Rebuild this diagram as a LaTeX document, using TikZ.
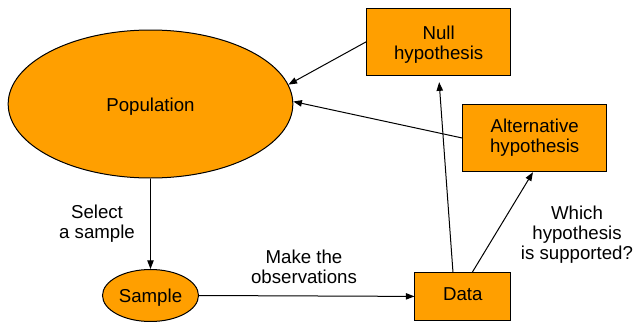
\documentclass[tikz,border=0pt]{standalone}
\usepackage{fontspec}
\setmainfont{Liberation Sans}
\usetikzlibrary{shapes.geometric,arrows.meta}
\definecolor{boxorange}{RGB}{255,159,0}
\newcommand{\movedtext}[2]{\raisebox{-#1}[\height][\depth]{\begin{tabular}{@{}c@{}}#2\end{tabular}}}
\begin{document}
\begin{tikzpicture}[x=0.75pt,y=-0.75pt,
  font=\fontsize{14pt}{15pt}\selectfont,
  shapebox/.style={draw=black,fill=boxorange,line width=0.75pt,inner sep=0pt,align=center},
  ell/.style={shapebox,ellipse},
  rect/.style={shapebox,rectangle},
  conn/.style={line width=0.75pt,-{Triangle[length=6.5pt,width=4.8pt]}},
  lbl/.style={align=center,inner sep=0pt}]
\useasboundingbox (0,0) rectangle (637,322);
\node[ell,minimum width=213.5pt,minimum height=111pt] (pop) at (150.5,104) {\movedtext{2.25pt}{Population}};
\node[ell,minimum width=72pt,minimum height=39pt] (samp) at (150.5,295.5) {\movedtext{2.25pt}{Sample}};
\node[rect,minimum width=108pt,minimum height=50.25pt] (null) at (438.7,41.8) {\movedtext{2.6pt}{Null\\hypothesis}};
\node[rect,minimum width=108pt,minimum height=50.5pt] (alt) at (534.7,138) {\movedtext{0.4pt}{Alternative\\hypothesis}};
\node[rect,minimum width=71.8pt,minimum height=35.5pt] (data) at (462.85,296.4) {\movedtext{0pt}{Data}};
\draw[conn] (pop.south) -- (samp.north);
\draw[conn] (samp.east) -- (data.west);
\draw[conn,shorten >=4.8pt] ([xshift=-7.4pt]data.north) -- (null.south);
\draw[conn] ([xshift=7.1pt]data.north) -- ([xshift=-1.3pt]alt.south);
\draw[conn] (null.west) -- (pop.8);
\draw[conn] (alt.west) -- (pop.1);
\node[lbl] (lsel) at (97,224) {Select\\a sample};
\node[lbl] (lobs) at (304,267) {Make the\\observations};
\node[lbl] (lwhich) at (577,234.5) {Which\\hypothesis\\is supported?};
\end{tikzpicture}
\end{document}
